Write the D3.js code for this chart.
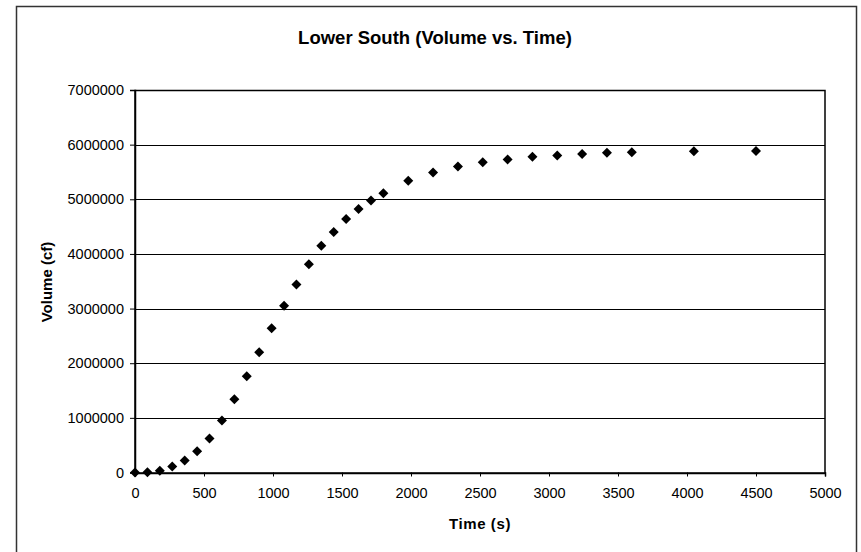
<!DOCTYPE html>
<html>
<head>
<meta charset="utf-8">
<script src="https://cdn.jsdelivr.net/npm/d3@7/dist/d3.min.js"></script>
<style>
  html, body { margin: 0; padding: 0; background: #fff; }
  svg { display: block; font-family: "Liberation Sans", Arial, Helvetica, sans-serif; }
</style>
</head>
<body>
<svg id="chart" width="861" height="552"></svg>
<script>
// ---- Data ----
const timeSeconds = [0, 90, 180, 270, 360, 450, 540, 630, 720, 810, 900, 990, 1080, 1170, 1260,
  1350, 1440, 1530, 1620, 1710, 1800, 1980, 2160, 2340, 2520, 2700, 2880, 3060, 3240, 3420,
  3600, 4050, 4500];
const volumeCf = [0, 5000, 30000, 110000, 220000, 390000, 620000, 950000, 1340000, 1760000,
  2200000, 2640000, 3050000, 3440000, 3810000, 4150000, 4400000, 4640000, 4820000, 4980000,
  5110000, 5340000, 5490000, 5600000, 5680000, 5730000, 5780000, 5800000, 5830000, 5850000,
  5860000, 5880000, 5885000];
const xTicks = [0, 500, 1000, 1500, 2000, 2500, 3000, 3500, 4000, 4500, 5000];
const yTicks = [0, 1000000, 2000000, 3000000, 4000000, 5000000, 6000000, 7000000];
const titleText = "Lower South (Volume vs. Time)";
const xTitle = "Time (s)";
const yTitle = "Volume (cf)";

// ---- Layout ----
const svg = d3.select("#chart");
const plot = { left: 135, right: 825, top: 90, bottom: 472.5 };

const x = d3.scaleLinear().domain([0, 5000]).range([plot.left, plot.right]);
const y = d3.scaleLinear().domain([0, 7000000]).range([plot.bottom, plot.top]);

// outer chart border
svg.append("rect")
  .attr("x", 16.5).attr("y", 6.5)
  .attr("width", 840).attr("height", 570)
  .attr("fill", "#fff")
  .attr("stroke", "#333").attr("stroke-width", 1.5);

// gridlines
svg.append("g")
  .selectAll("line")
  .data(yTicks)
  .join("line")
  .attr("x1", plot.left).attr("x2", plot.right)
  .attr("y1", d => Math.round(y(d)) + 0.5).attr("y2", d => Math.round(y(d)) + 0.5)
  .attr("stroke", "#000").attr("stroke-width", 1);

// plot border
svg.append("rect")
  .attr("x", plot.left).attr("y", Math.round(y(7000000)) + 0.5)
  .attr("width", plot.right - plot.left)
  .attr("height", Math.round(y(0)) - Math.round(y(7000000)))
  .attr("fill", "none").attr("stroke", "#000").attr("stroke-width", 1.5);

// y axis
const yAxis = d3.axisLeft(y).tickValues(yTicks).tickSize(5).tickPadding(6)
  .tickFormat(d3.format("d"));
const gy = svg.append("g").attr("transform", `translate(${plot.left},0)`).call(yAxis);
gy.select(".domain").attr("stroke", "#000").attr("stroke-width", 1.5);
gy.selectAll(".tick line").attr("stroke", "#000");
gy.selectAll(".tick text").attr("font-size", 14.5).attr("fill", "#000")
  .attr("font-family", "Liberation Sans, Arial, sans-serif");

// x axis
const xAxis = d3.axisBottom(x).tickValues(xTicks).tickSize(4).tickPadding(11)
  .tickFormat(d3.format("d"));
const gx = svg.append("g").attr("transform", `translate(0,${plot.bottom})`).call(xAxis);
gx.select(".domain").attr("stroke", "#000").attr("stroke-width", 1.5);
gx.selectAll(".tick line").attr("stroke", "#000");
gx.selectAll(".tick text").attr("font-size", 14.5).attr("fill", "#000")
  .attr("font-family", "Liberation Sans, Arial, sans-serif");

// markers (diamonds)
const r = 5;
svg.append("g")
  .selectAll("path")
  .data(timeSeconds.map((t, i) => [t, volumeCf[i]]))
  .join("path")
  .attr("transform", d => `translate(${x(d[0])},${y(d[1])})`)
  .attr("d", `M0,${-r}L${r},0L0,${r}L${-r},0Z`)
  .attr("fill", "#000");

// titles
svg.append("text")
  .attr("x", 435).attr("y", 44)
  .attr("text-anchor", "middle")
  .attr("font-size", 18.5).attr("font-weight", "bold")
  .text(titleText);

svg.append("text")
  .attr("x", 480).attr("y", 529)
  .attr("text-anchor", "middle")
  .attr("font-size", 15).attr("font-weight", "bold")
  .attr("letter-spacing", 0.6)
  .text(xTitle);

svg.append("text")
  .attr("transform", "translate(52,282) rotate(-90)")
  .attr("text-anchor", "middle")
  .attr("font-size", 15).attr("font-weight", "bold")
  .text(yTitle);
</script>
</body>
</html>
